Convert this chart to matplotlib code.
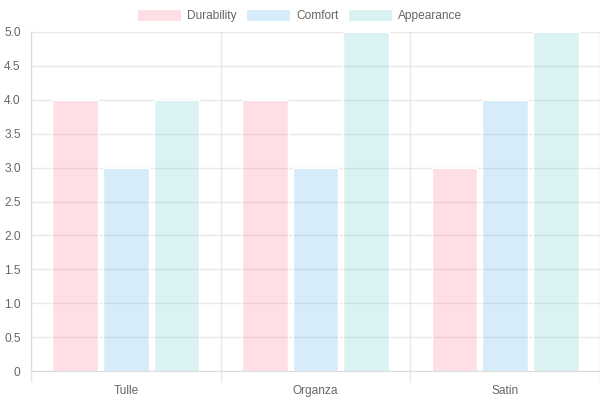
import matplotlib.pyplot as plt
import numpy as np
from matplotlib.patches import Patch

# Data
fabrics = ["Tulle", "Organza", "Satin"]
series = ["Durability", "Comfort", "Appearance"]
durability = [4, 4, 3]
comfort = [3, 3, 4]
appearance = [4, 5, 5]
values = [durability, comfort, appearance]
y_ticks = [0, 0.5, 1.0, 1.5, 2.0, 2.5, 3.0, 3.5, 4.0, 4.5, 5.0]

colors = [(255/255, 99/255, 132/255), (54/255, 162/255, 235/255), (75/255, 192/255, 192/255)]
alpha = 0.2
grid_color = "#e8e8e8"
text_color = "#666666"

plt.rcParams["font.family"] = ["Liberation Sans", "DejaVu Sans"]

fig = plt.figure(figsize=(6, 4), dpi=100)
ax = fig.add_axes([31/600, 29/400, 569/600, 339/400])

x = np.arange(len(fabrics))
slot = 0.8 / len(series)
bar_w = slot * 0.9
for i, (name, vals) in enumerate(zip(series, values)):
    offs = (i - 1) * slot
    ax.bar(x + offs, vals, width=bar_w, color=colors[i] + (alpha,),
           edgecolor="white", linewidth=1.0, zorder=2)

ax.set_xlim(-0.5, len(fabrics) - 0.5)
ax.set_ylim(0, 5)
ax.set_yticks(y_ticks)
ax.set_yticklabels(["0" if t == 0 else f"{t:.1f}" for t in y_ticks])
ax.set_xticks(x)
ax.set_xticklabels(fabrics)
ax.set_xticks(np.arange(len(fabrics) + 1) - 0.5, minor=True)

ax.tick_params(axis="y", length=0, pad=7.5, labelsize=8.6, labelcolor=text_color)
ax.tick_params(axis="x", which="major", length=0, pad=10, labelsize=8.6, labelcolor=text_color)
ax.tick_params(axis="x", which="minor", length=8, color=grid_color, width=1)

ax.grid(True, axis="y", color=grid_color, linewidth=1, zorder=0)
ax.grid(True, axis="x", which="minor", color=grid_color, linewidth=1, zorder=0)
ax.set_axisbelow(True)

for side in ["top", "right"]:
    ax.spines[side].set_visible(False)
ax.spines["left"].set_color("#dcdcdc")
ax.spines["bottom"].set_color("#dcdcdc")

handles = [Patch(facecolor=colors[i] + (alpha,), edgecolor="none", label=s)
           for i, s in enumerate(series)]
fig.legend(handles=handles, loc="center", bbox_to_anchor=(0.5, 1 - 16/400),
           ncol=3, frameon=False, fontsize=8.6, labelcolor=text_color,
           handlelength=3.6, handleheight=1.1, handletextpad=0.5, columnspacing=0.9)

fig.savefig("out.png", dpi=100)
